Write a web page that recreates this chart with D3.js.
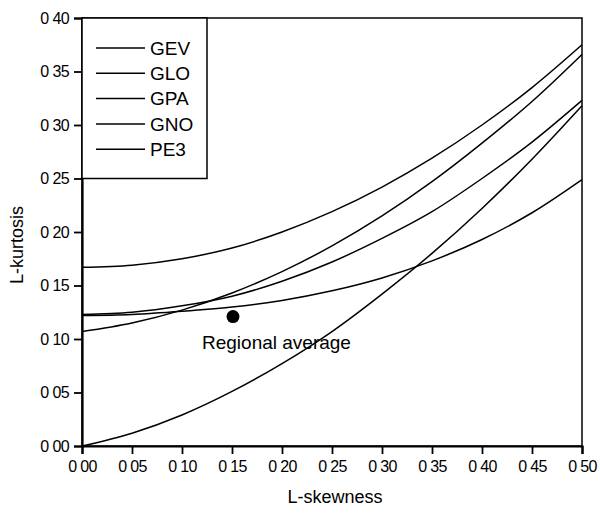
<!DOCTYPE html>
<html><head><meta charset="utf-8">
<script src="https://cdn.jsdelivr.net/npm/d3@7"></script>
<style>body{margin:0;background:#fff}svg{display:block}text{font-family:"Liberation Sans",Arial,sans-serif;fill:#000}</style>
</head><body><svg id="c" width="600" height="514"></svg>
<script>
const tau3 = [0, 0.05, 0.10, 0.15, 0.20, 0.25, 0.30, 0.35, 0.40, 0.45, 0.50];
const GLO = [0.167, 0.169, 0.175, 0.185, 0.200, 0.219, 0.242, 0.269, 0.300, 0.335, 0.375];
const GEV = [0.107, 0.115, 0.127, 0.143, 0.163, 0.187, 0.215, 0.247, 0.283, 0.322, 0.366];
const GPA = [0.000, 0.012, 0.029, 0.051, 0.077, 0.107, 0.142, 0.180, 0.222, 0.268, 0.318];
const GNO = [0.123, 0.125, 0.131, 0.140, 0.154, 0.172, 0.194, 0.219, 0.250, 0.284, 0.323];
const PE3 = [0.122, 0.123, 0.126, 0.130, 0.136, 0.145, 0.157, 0.173, 0.193, 0.218, 0.249];
const seriesNames = ["GEV", "GLO", "GPA", "GNO", "PE3"];
const seriesData = {GEV, GLO, GPA, GNO, PE3};
const regional = {t3: 0.151, t4: 0.121, label: "Regional average"};
const xTicks = [0, 0.05, 0.10, 0.15, 0.20, 0.25, 0.30, 0.35, 0.40, 0.45, 0.50];
const yTicks = [0, 0.05, 0.10, 0.15, 0.20, 0.25, 0.30, 0.35, 0.40];

const svg = d3.select("#c");
const L = 82, R = 582, T = 18, B = 446;
const x = d3.scaleLinear().domain([0, 0.5]).range([L, R]);
const y = d3.scaleLinear().domain([0, 0.4]).range([B, T]);
const fmt = d => d.toFixed(2).replace(".", " ");

const line = d3.line().x(d => x(d[0])).y(d => y(d[1])).curve(d3.curveMonotoneX);
seriesNames.forEach(n => {
  const pts = tau3.map((t, i) => [t, seriesData[n][i]]);
  svg.append("path").attr("d", line(pts)).attr("fill", "none")
    .attr("stroke", "#000").attr("stroke-width", 1.5);
});

// frame
svg.append("rect").attr("x", L).attr("y", T).attr("width", R - L).attr("height", B - T)
  .attr("fill", "none").attr("stroke", "#000").attr("stroke-width", 1.5);

const xa = svg.append("g").attr("transform", `translate(0,${B})`)
  .call(d3.axisBottom(x).tickValues(xTicks).tickFormat(fmt).tickSize(8).tickPadding(7));
const ya = svg.append("g").attr("transform", `translate(${L},0)`)
  .call(d3.axisLeft(y).tickValues(yTicks).tickFormat(fmt).tickSize(8).tickPadding(5));
[xa, ya].forEach(g => {
  g.select(".domain").attr("stroke-width", 2.2);
  g.selectAll(".tick line").attr("stroke-width", 1.8);
  g.selectAll("text").style("font-size", "16px").style("letter-spacing", "-0.6px").attr("fill", "#000");
});

// legend
svg.append("rect").attr("x", L).attr("y", T).attr("width", 125).attr("height", y(0.25) - T)
  .attr("fill", "#fff").attr("stroke", "#000").attr("stroke-width", 1.5);
seriesNames.forEach((n, i) => {
  const yy = 48 + i * 25.3;
  svg.append("line").attr("x1", 96).attr("x2", 145).attr("y1", yy).attr("y2", yy)
    .attr("stroke", "#000").attr("stroke-width", 1.5);
  svg.append("text").attr("x", 150).attr("y", yy).attr("dy", "0.36em")
    .style("font-size", "19px").text(n);
});

// regional average
svg.append("circle").attr("cx", x(regional.t3)).attr("cy", y(regional.t4)).attr("r", 6.5).attr("fill", "#000");
svg.append("text").attr("x", 202).attr("y", 349).style("font-size", "19px").text(regional.label);

// axis titles
svg.append("text").attr("x", 335).attr("y", 503).attr("text-anchor", "middle")
  .style("font-size", "18px").text("L-skewness");
svg.append("text").attr("transform", "translate(23,245) rotate(-90)").attr("text-anchor", "middle")
  .style("font-size", "18px").text("L-kurtosis");
</script></body></html>
